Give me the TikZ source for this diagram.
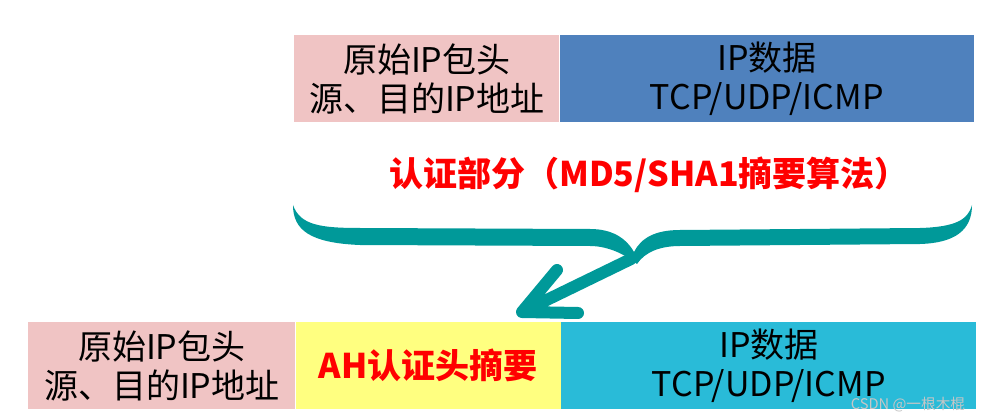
\documentclass[tikz,border=0pt]{standalone}
\usepackage{fontspec}
\newfontfamily\cjk{Noto Sans CJK SC}
\usepackage{xcolor}
\usetikzlibrary{positioning}

\definecolor{hdrpink}{RGB}{240,196,196}
\definecolor{datablue}{RGB}{79,129,189}
\definecolor{ahyellow}{RGB}{255,255,128}
\definecolor{datacyan}{RGB}{41,187,216}
\definecolor{braceteal}{RGB}{0,153,153}

\begin{document}
\begin{tikzpicture}[x=0.75pt, y=-0.75pt,
        field/.style={rectangle, inner sep=0pt, minimum height=65.25pt, align=center,
                      font=\cjk\fontsize{25.5}{29}\selectfont},
        redtxt/.style={text=red, font=\cjk\bfseries\fontsize{25.5}{29}\selectfont}]
        \useasboundingbox (0,0) rectangle (992,420);

        % original packet
        \node[field, fill=hdrpink, minimum width=198.75pt, anchor=north west] (hdr) at (294,35) {原始IP包头\\源、目的IP地址};
        \node[field, fill=datablue, minimum width=310.5pt, right=0pt of hdr] (data) {IP数据\\TCP/UDP/ICMP};

        \node[redtxt] (auth) at (649,175) {认证部分（MD5/SHA1摘要算法）};

        % packet with AH
        \node[field, fill=hdrpink, minimum width=200.25pt, anchor=north west] (hdr2) at (28,322) {原始IP包头\\源、目的IP地址};
        \node[field, fill=ahyellow, minimum width=198.75pt, right=0pt of hdr2, redtxt] (ah) {AH认证头摘要};
        \node[field, fill=datacyan, minimum width=311.25pt, right=0pt of ah] (data2) {IP数据\\TCP/UDP/ICMP};

        % brace
        \fill[braceteal] (293,205) .. controls (300,225) and (320,228) .. (360,228) -- (590,229)
            .. controls (612,229) and (626,238) .. (634,252)
            .. controls (641,238) and (655,230) .. (680,230) -- (920,228)
            .. controls (955,227) and (968,220) .. (972,205)
            .. controls (972,230) and (955,243) .. (920,244) -- (680,246)
            .. controls (660,246) and (645,252) .. (637,264)
            .. controls (622,252) and (605,246) .. (590,246) -- (360,245)
            .. controls (310,243) and (293,230) .. (293,205) -- cycle;

        \coordinate (cusp) at (631,259);
        \coordinate (tip) at (522,312);
        \draw[braceteal, line width=9pt, line cap=round, line join=round]
            (cusp) -- (tip) (557,270) -- (tip) -- (578,313);

        \node[text=gray!45, font=\cjk\fontsize{11}{13}\selectfont] (mark) at (908,405) {CSDN @一根木棍};
    \end{tikzpicture}
\end{document}
